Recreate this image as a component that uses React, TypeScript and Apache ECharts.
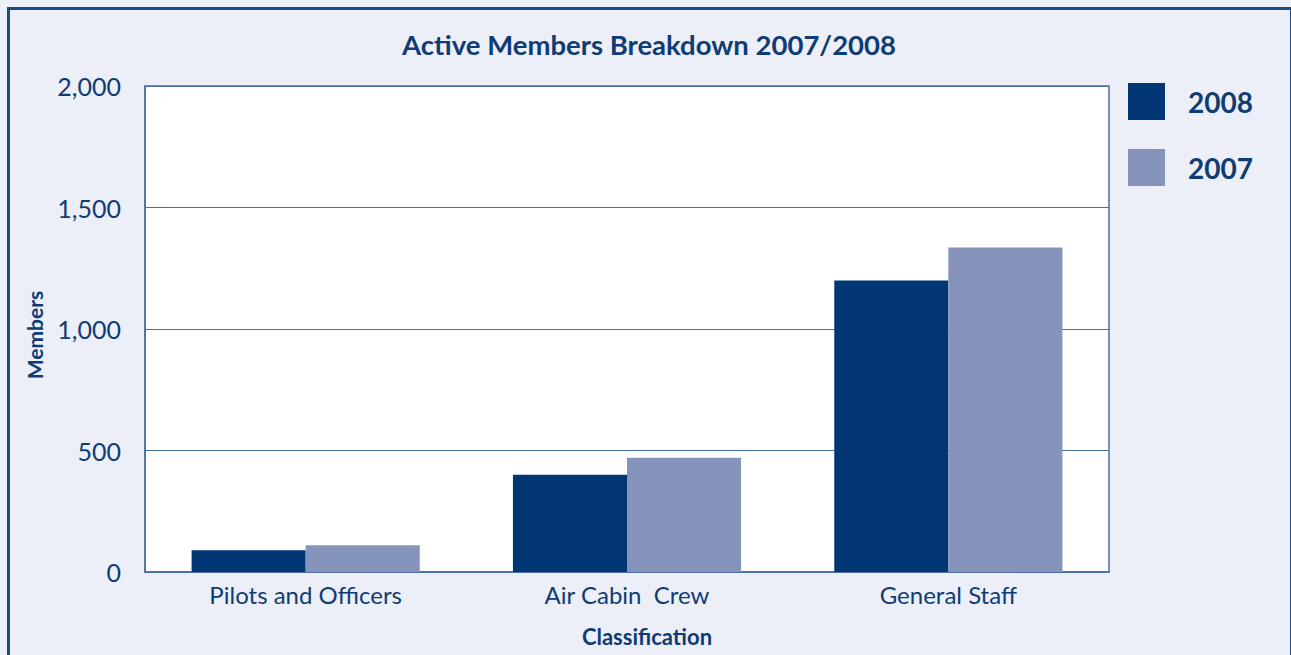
import React, { useEffect, useRef } from "react";
import * as echarts from "echarts";

const categories = ["Pilots and Officers", "Air Cabin  Crew", "General Staff"];
const values2008 = [90, 400, 1200];
const values2007 = [110, 470, 1335];
const yTicks = [0, 500, 1000, 1500, 2000];

const NAVY = "#0f3c74";
const LINE = "#4a6f9f";
const FONT = "Lato, 'Open Sans', sans-serif";

export default function App() {
  const ref = useRef<HTMLDivElement>(null);
  useEffect(() => {
    if (!ref.current) return;
    const chart = echarts.init(ref.current, undefined, { renderer: "svg" });
    chart.setOption({
      animation: false,
      backgroundColor: "#eceff8",
      textStyle: { fontFamily: FONT },
      title: {
        text: "Active Members Breakdown 2007/2008",
        left: 649,
        textAlign: "center",
        top: 30,
        padding: 0,
        textStyle: { color: NAVY, fontSize: 27.5, fontWeight: "bold", fontFamily: FONT },
      },
      legend: {
        orient: "vertical",
        left: 1128,
        top: 83,
        padding: 0,
        itemWidth: 37,
        itemHeight: 37,
        itemGap: 29,
        icon: "rect",
        data: ["2008", "2007"],
        textStyle: {
          color: NAVY,
          fontSize: 28,
          fontWeight: "bold",
          fontFamily: FONT,
          padding: [0, 0, 0, 18],
        },
      },
      grid: {
        left: 145,
        right: 182,
        top: 86,
        bottom: 83,
        show: true,
        backgroundColor: "#ffffff",
        borderColor: LINE,
        borderWidth: 1.5,
        containLabel: false,
      },
      xAxis: {
        type: "category",
        data: categories,
        axisLine: { show: true, lineStyle: { color: LINE, width: 1.5 } },
        axisTick: { show: false },
        axisLabel: { color: NAVY, fontSize: 24, margin: 10, fontFamily: FONT },
        name: "Classification",
        nameLocation: "middle",
        nameGap: 53,
        nameTextStyle: {
          color: NAVY,
          fontSize: 22,
          fontWeight: "bold",
          fontFamily: FONT,
          padding: [0, 0, 0, 40],
        },
      },
      yAxis: {
        type: "value",
        min: 0,
        max: 2000,
        interval: 500,
        axisLine: { show: true, lineStyle: { color: LINE, width: 1.5 } },
        axisTick: { show: false },
        splitLine: { show: true, lineStyle: { color: LINE, width: 1.2 } },
        axisLabel: {
          color: NAVY,
          fontSize: 25,
          margin: 24,
          fontFamily: FONT,
          formatter: (v: number) => (yTicks.includes(v) ? v.toLocaleString("en-US") : ""),
        },
        name: "Members",
        nameLocation: "middle",
        nameGap: 100,
        nameRotate: 90,
        nameTextStyle: {
          color: NAVY,
          fontSize: 21,
          fontWeight: "bold",
          fontFamily: FONT,
          padding: [0, 12, 0, 0],
        },
      },
      series: [
        {
          name: "2008",
          type: "bar",
          data: values2008,
          barGap: "0%",
          barCategoryGap: "29%",
          itemStyle: { color: "#003673" },
        },
        {
          name: "2007",
          type: "bar",
          data: values2007,
          itemStyle: { color: "#8693bb" },
        },
      ],
      graphic: [
        {
          type: "rect",
          left: 6,
          top: 6,
          shape: { width: 1283, height: 700 },
          style: { fill: "none", stroke: "#1a4b8a", lineWidth: 3 },
          silent: true,
        },
      ],
    });
    return () => chart.dispose();
  }, []);
  return (
    <div
      ref={ref}
      style={{ position: "fixed", left: 0, top: 0, width: 1291, height: 655 }}
    />
  );
}
